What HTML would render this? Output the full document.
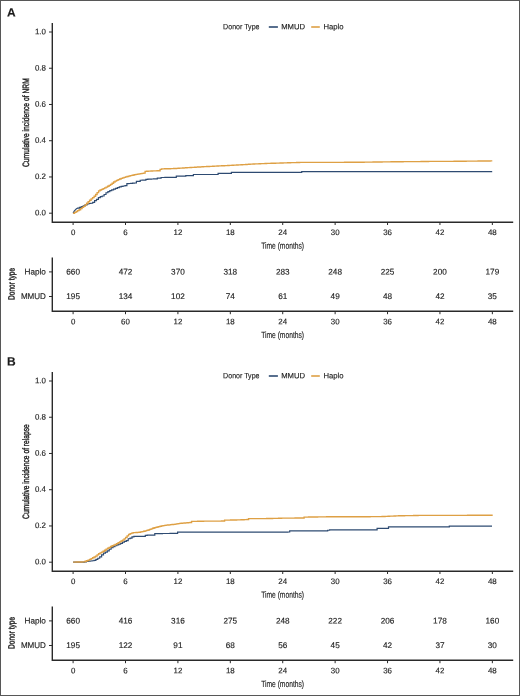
<!DOCTYPE html>
<html><head><meta charset="utf-8"><style>
html,body{margin:0;padding:0;background:#fff;}
body{width:520px;height:696px;overflow:hidden;}
svg{display:block;font-family:"Liberation Sans", sans-serif;}
text{stroke:#222;stroke-width:0.15px;}
.tx{opacity:0.999;}
text.c{stroke-width:0.4px;}
</style></head><body>
<svg width="520" height="696" viewBox="0 0 520 696">
<rect x="0" y="0" width="520" height="696" fill="#fff"/>
<rect x="0.5" y="0.5" width="519" height="695" fill="none" stroke="#575757" stroke-width="1"/>
<line x1="268.8" x2="277.9" y1="27.0" y2="27.0" stroke="#2e4b72" stroke-width="1.6"/>
<line x1="311.2" x2="319.8" y1="27.0" y2="27.0" stroke="#dea044" stroke-width="1.6"/>
<path d="M52.3,23.0V222.2H513.2" fill="none" stroke="#2a2a2a" stroke-width="1.4"/>
<line x1="49.0" x2="52.3" y1="32.00" y2="32.00" stroke="#2a2a2a" stroke-width="1"/>
<line x1="49.0" x2="52.3" y1="68.24" y2="68.24" stroke="#2a2a2a" stroke-width="1"/>
<line x1="49.0" x2="52.3" y1="104.48" y2="104.48" stroke="#2a2a2a" stroke-width="1"/>
<line x1="49.0" x2="52.3" y1="140.72" y2="140.72" stroke="#2a2a2a" stroke-width="1"/>
<line x1="49.0" x2="52.3" y1="176.96" y2="176.96" stroke="#2a2a2a" stroke-width="1"/>
<line x1="49.0" x2="52.3" y1="213.20" y2="213.20" stroke="#2a2a2a" stroke-width="1"/>
<line x1="73.10" x2="73.10" y1="222.0" y2="225.0" stroke="#2a2a2a" stroke-width="1"/>
<line x1="125.51" x2="125.51" y1="222.0" y2="225.0" stroke="#2a2a2a" stroke-width="1"/>
<line x1="177.91" x2="177.91" y1="222.0" y2="225.0" stroke="#2a2a2a" stroke-width="1"/>
<line x1="230.32" x2="230.32" y1="222.0" y2="225.0" stroke="#2a2a2a" stroke-width="1"/>
<line x1="282.72" x2="282.72" y1="222.0" y2="225.0" stroke="#2a2a2a" stroke-width="1"/>
<line x1="335.13" x2="335.13" y1="222.0" y2="225.0" stroke="#2a2a2a" stroke-width="1"/>
<line x1="387.54" x2="387.54" y1="222.0" y2="225.0" stroke="#2a2a2a" stroke-width="1"/>
<line x1="439.94" x2="439.94" y1="222.0" y2="225.0" stroke="#2a2a2a" stroke-width="1"/>
<line x1="492.35" x2="492.35" y1="222.0" y2="225.0" stroke="#2a2a2a" stroke-width="1"/>
<path d="M73.10,213.20L74.20,211.20L76.20,208.90L77.50,208.20H79.40V207.39H81.30V206.59H83.20V205.76H85.10V204.88H87.00V203.86H88.90V203.49H90.80V203.24H92.70V202.30H94.60V200.55H96.50V199.37H98.40V197.70H100.30V196.72H102.20V195.99H104.10V194.51H106.00V192.76H107.90V191.62H109.80V190.69H111.70V189.85H113.60V189.05H115.50V188.30H117.40V187.57H119.30V186.95H121.20V186.40H123.10V186.01H125.00V185.71H126.90V183.70H128.80V183.52H130.70V183.35H132.60V183.17H134.50V183.00H136.40V181.42H138.30V181.34H140.20V180.26H142.10V180.19H144.00V180.11H145.90V179.31H147.80V179.21H149.70V179.12H151.60V179.02H153.50V178.92H155.40V178.82H157.30V178.20H159.20H161.10V177.49H163.00H164.90V177.44H166.80H168.70V177.39H170.60H172.50V177.34H174.40H176.30V176.10H178.20H180.10H182.00H183.90H185.80V175.60H187.70H189.60H191.50H193.40V174.50H195.30H197.20H199.10H201.00H202.90H204.80H206.70H208.60H210.50H212.40H214.30H216.20H218.10V173.30H220.00H221.90H223.80H225.70H227.60H229.50H231.40V172.35H233.30H235.20H237.10H239.00H240.90H242.80H244.70H246.60H248.50H250.40H252.30H254.20H256.10H258.00H259.90H261.80H263.70H265.60H267.50H269.40H271.30H273.20H275.10H277.00H278.90H280.80H282.70H284.60H286.50H288.40H290.30H292.20H294.10H296.00H297.90H299.80H301.70V171.65H303.60H305.50H307.40H309.30H311.20H313.10H315.00H316.90H318.80H320.70H322.60H324.50H326.40H328.30H330.20H332.10H334.00H335.90H337.80H339.70H341.60H343.50H345.40H347.30H349.20H351.10H353.00H354.90H356.80H358.70H360.60H362.50H364.40H366.30H368.20H370.10H372.00H373.90H375.80H377.70H379.60H381.50H383.40H385.30H387.20H389.10H391.00H392.90H394.80H396.70H398.60H400.50H402.40H404.30H406.20H408.10H410.00H411.90H413.80H415.70H417.60H419.50H421.40H423.30H425.20H427.10H429.00H430.90H432.80H434.70H436.60H438.50H440.40H442.30H444.20H446.10H448.00H449.90H451.80H453.70H455.60H457.50H459.40H461.30H463.20H465.10H467.00H468.90H470.80H472.70H474.60H476.50H478.40H480.30H482.20H484.10H486.00H487.90H489.80H491.70H492.20" fill="none" stroke="#2e4b72" stroke-width="1.2"/>
<path d="M73.10,213.20H74.60V212.34H76.10V211.49H77.60V210.63H79.10V209.70H80.60V208.57H82.10V207.44H83.60V206.30H85.10V204.93H86.60V203.27H88.10V201.70H89.60V200.20H91.10V198.84H92.60V197.56H94.10V196.28H95.60V194.50H97.10V192.67H98.60V190.84H100.10V190.00H101.60V189.31H103.10V188.60H104.60V187.85H106.10V187.10H107.60V186.25H109.10V185.37H110.60V184.44H112.10V183.21H113.60V181.99H115.10V181.06H116.60V180.33H118.10V179.60H119.60V179.01H121.10V178.44H122.60V177.89H124.10V177.33H125.60V176.84H127.10V176.45H128.60V176.06H130.10V175.68H131.60V175.32H133.10V174.96H134.60V174.60H136.10V174.31H137.60V174.06H139.10V173.80H140.60V173.56H142.10V173.33H143.60V173.10H145.10V171.32H146.60V171.24H148.10V171.15H149.60V171.07H151.10V171.01H152.60V170.94H154.10V170.88H155.60V170.82H157.10V170.76H158.60V170.70H160.10V169.35H161.60V168.87H163.10H164.60V168.79H166.10H167.60V168.71H169.10H170.60V168.62H172.10H173.60V168.54H175.10H176.60V168.39H178.10V168.29H179.60V168.19H181.10V168.09H182.60V167.99H184.10V167.89H185.60V167.79H187.10V167.69H188.60V167.59H190.10V167.49H191.60V167.40H193.10V167.31H194.60V167.22H196.10V167.13H197.60V167.04H199.10V166.95H200.60V166.86H202.10V166.77H203.60V166.68H205.10V166.60H206.60V166.52H208.10V166.45H209.60V166.37H211.10V166.30H212.60V166.23H214.10V166.15H215.60V166.08H217.10V166.01H218.60V165.93H220.10V165.86H221.60V165.79H223.10V165.71H224.60V165.64H226.10V165.56H227.60V165.48H229.10V165.40H230.60V165.32H232.10V165.23H233.60V165.15H235.10V165.07H236.60V164.99H238.10V164.90H239.60V164.82H241.10V164.73H242.60V164.64H244.10V164.55H245.60V164.46H247.10V164.37H248.60V164.28H250.10V164.19H251.60V164.10H253.10V164.01H254.60V163.92H256.10V163.86H257.60V163.80H259.10V163.74H260.60V163.68H262.10V163.62H263.60V163.56H265.10V163.50H266.60V163.44H268.10V163.38H269.60V163.32H271.10V163.26H272.60V163.21H274.10H275.60V163.11H277.10V163.06H278.60H280.10V162.96H281.60H283.10V162.86H284.60V162.81H286.10H287.60V162.73H289.10H290.60V162.65H292.10H293.60V162.57H295.10H296.60V162.49H298.10H299.60V162.41H301.10H302.60H304.10H305.60H307.10H308.60H310.10H311.60H313.10V162.36H314.60H316.10H317.60H319.10H320.60H322.10H323.60H325.10H326.60H328.10H329.60V162.30H331.10H332.60H334.10H335.60H337.10H338.60H340.10H341.60H343.10H344.60V162.25H346.10H347.60H349.10H350.60H352.10H353.60H355.10H356.60H358.10H359.60V162.20H361.10H362.60H364.10V162.15H365.60H367.10H368.60V162.09H370.10H371.60H373.10V162.03H374.60H376.10H377.60V161.97H379.10H380.60H382.10V161.91H383.60H385.10H386.60V161.85H388.10H389.60H391.10V161.79H392.60H394.10H395.60H397.10V161.73H398.60H400.10H401.60H403.10V161.67H404.60H406.10H407.60H409.10V161.61H410.60H412.10H413.60H415.10V161.55H416.60H418.10H419.60H421.10V161.49H422.60H424.10H425.60H427.10H428.60V161.44H430.10H431.60H433.10H434.60H436.10H437.60V161.38H439.10H440.60H442.10H443.60H445.10H446.60V161.32H448.10H449.60H451.10H452.60H454.10V161.26H455.60H457.10H458.60H460.10V161.20H461.60H463.10H464.60H466.10V161.14H467.60H469.10H470.60H472.10V161.08H473.60H475.10H476.60H478.10V161.03H479.60H481.10H482.60H484.10V160.97H485.60H487.10H488.60H490.10V160.92H491.60H492.30" fill="none" stroke="#dea044" stroke-width="1.35"/>
<path d="M52.3,257.4V311.3H513.2" fill="none" stroke="#2a2a2a" stroke-width="1.4"/>
<line x1="49.0" x2="52.3" y1="271.90" y2="271.90" stroke="#2a2a2a" stroke-width="1"/>
<line x1="49.0" x2="52.3" y1="296.50" y2="296.50" stroke="#2a2a2a" stroke-width="1"/>
<line x1="73.10" x2="73.10" y1="311.2" y2="314.2" stroke="#2a2a2a" stroke-width="1"/>
<line x1="125.51" x2="125.51" y1="311.2" y2="314.2" stroke="#2a2a2a" stroke-width="1"/>
<line x1="177.91" x2="177.91" y1="311.2" y2="314.2" stroke="#2a2a2a" stroke-width="1"/>
<line x1="230.32" x2="230.32" y1="311.2" y2="314.2" stroke="#2a2a2a" stroke-width="1"/>
<line x1="282.72" x2="282.72" y1="311.2" y2="314.2" stroke="#2a2a2a" stroke-width="1"/>
<line x1="335.13" x2="335.13" y1="311.2" y2="314.2" stroke="#2a2a2a" stroke-width="1"/>
<line x1="387.54" x2="387.54" y1="311.2" y2="314.2" stroke="#2a2a2a" stroke-width="1"/>
<line x1="439.94" x2="439.94" y1="311.2" y2="314.2" stroke="#2a2a2a" stroke-width="1"/>
<line x1="492.35" x2="492.35" y1="311.2" y2="314.2" stroke="#2a2a2a" stroke-width="1"/>
<line x1="268.8" x2="277.9" y1="376.0" y2="376.0" stroke="#2e4b72" stroke-width="1.6"/>
<line x1="311.2" x2="319.8" y1="376.0" y2="376.0" stroke="#dea044" stroke-width="1.6"/>
<path d="M52.3,372.0V571.2H513.2" fill="none" stroke="#2a2a2a" stroke-width="1.4"/>
<line x1="49.0" x2="52.3" y1="381.00" y2="381.00" stroke="#2a2a2a" stroke-width="1"/>
<line x1="49.0" x2="52.3" y1="417.24" y2="417.24" stroke="#2a2a2a" stroke-width="1"/>
<line x1="49.0" x2="52.3" y1="453.48" y2="453.48" stroke="#2a2a2a" stroke-width="1"/>
<line x1="49.0" x2="52.3" y1="489.72" y2="489.72" stroke="#2a2a2a" stroke-width="1"/>
<line x1="49.0" x2="52.3" y1="525.96" y2="525.96" stroke="#2a2a2a" stroke-width="1"/>
<line x1="49.0" x2="52.3" y1="562.20" y2="562.20" stroke="#2a2a2a" stroke-width="1"/>
<line x1="73.10" x2="73.10" y1="571.0" y2="574.0" stroke="#2a2a2a" stroke-width="1"/>
<line x1="125.51" x2="125.51" y1="571.0" y2="574.0" stroke="#2a2a2a" stroke-width="1"/>
<line x1="177.91" x2="177.91" y1="571.0" y2="574.0" stroke="#2a2a2a" stroke-width="1"/>
<line x1="230.32" x2="230.32" y1="571.0" y2="574.0" stroke="#2a2a2a" stroke-width="1"/>
<line x1="282.72" x2="282.72" y1="571.0" y2="574.0" stroke="#2a2a2a" stroke-width="1"/>
<line x1="335.13" x2="335.13" y1="571.0" y2="574.0" stroke="#2a2a2a" stroke-width="1"/>
<line x1="387.54" x2="387.54" y1="571.0" y2="574.0" stroke="#2a2a2a" stroke-width="1"/>
<line x1="439.94" x2="439.94" y1="571.0" y2="574.0" stroke="#2a2a2a" stroke-width="1"/>
<line x1="492.35" x2="492.35" y1="571.0" y2="574.0" stroke="#2a2a2a" stroke-width="1"/>
<path d="M73.10,562.10H75.00H76.90H78.80V562.05H80.70H82.60H84.50V561.79H86.40V561.41H88.30V561.13H90.20V560.98H92.10V560.74H94.00V560.40H95.90V559.45H97.80V558.23H99.70V556.90H101.60V554.92H103.50V553.13H105.40V552.10H107.30V550.87H109.20V549.23H111.10V547.62H113.00V546.62H114.90V545.76H116.80V544.95H118.70V544.16H120.60V543.38H122.50V542.12H124.40V541.37H126.30V540.57H128.20V538.73H130.10V538.05H132.00V536.92H133.90V536.40H135.80H137.70H139.60H141.50H143.40H145.30V535.31H147.20V535.16H149.10V535.10H151.00H152.90H154.80V533.59H156.70H158.60H160.50H162.40V533.52H164.30H166.20H168.10H170.00V533.46H171.90H173.80H175.70H177.60V532.10H179.50H181.40H183.30H185.20H187.10H189.00H190.90H192.80H194.70H196.60H198.50H200.40H202.30H204.20H206.10H208.00H209.90H211.80H213.70H215.60H217.50H219.40H221.30H223.20H225.10H227.00H228.90H230.80H232.70H234.60H236.50H238.40H240.30H242.20H244.10H246.00H247.90H249.80H251.70H253.60H255.50H257.40H259.30H261.20H263.10H265.00H266.90H268.80H270.70H272.60H274.50H276.40H278.30H280.20H282.10H284.00H285.90H287.80V531.99H289.70V530.90H291.60H293.50H295.40H297.30H299.20H301.10H303.00H304.90H306.80H308.70H310.60H312.50H314.40H316.30H318.20H320.10H322.00H323.90H325.80H327.70V530.23H329.60V529.90H331.50H333.40H335.30H337.20H339.10H341.00H342.90H344.80H346.70H348.60H350.50H352.40H354.30H356.20H358.10H360.00H361.90H363.80H365.70H367.60H369.50H371.40H373.30H375.20H377.10V528.40H379.00H380.90H382.80H384.70H386.60H388.50V526.90H390.40H392.30H394.20H396.10H398.00H399.90H401.80H403.70H405.60H407.50H409.40H411.30H413.20H415.10H417.00H418.90H420.80H422.70H424.60H426.50H428.40H430.30H432.20H434.10H436.00H437.90H439.80H441.70H443.60H445.50H447.40H449.30V526.15H451.20H453.10H455.00H456.90H458.80H460.70H462.60H464.50H466.40H468.30H470.20H472.10H474.00H475.90H477.80H479.70H481.60H483.50H485.40H487.30H489.20H491.10H492.00" fill="none" stroke="#2e4b72" stroke-width="1.2"/>
<path d="M73.10,562.10H74.60H76.10V562.04H77.60H79.10V561.98H80.60H82.10V561.93H83.60V561.86H85.10V561.28H86.60V560.71H88.10V560.05H89.60V559.30H91.10V558.55H92.60V557.78H94.10V557.01H95.60V556.11H97.10V554.92H98.60V553.74H100.10V552.88H101.60V552.12H103.10V551.29H104.60V550.22H106.10V549.16H107.60V548.21H109.10V547.33H110.60V546.46H112.10V545.79H113.60V545.13H115.10V544.47H116.60V543.66H118.10V542.77H119.60V541.87H121.10V540.97H122.60V540.08H124.10V538.90H125.60V537.40H127.10V535.90H128.60V534.40H130.10V533.69H131.60V533.09H133.10V532.67H134.60V532.57H136.10V532.47H137.60V532.38H139.10V532.24H140.60V531.92H142.10V531.61H143.60V531.22H145.10V530.81H146.60V530.39H148.10V529.96H149.60V529.39H151.10V528.82H152.60V528.26H154.10V527.72H155.60V527.33H157.10V526.95H158.60V526.56H160.10V526.21H161.60V525.92H163.10V525.64H164.60V525.35H166.10V525.13H167.60V524.98H169.10V524.83H170.60V524.69H172.10V524.54H173.60V524.38H175.10V524.13H176.60V523.88H178.10V523.62H179.60V523.37H181.10V523.21H182.60V523.09H184.10V522.97H185.60V522.85H187.10V522.74H188.60V522.62H190.10V522.50H191.60V521.30H193.10H194.60H196.10H197.60V521.24H199.10H200.60H202.10H203.60V521.19H205.10H206.60H208.10H209.60V521.13H211.10H212.60H214.10H215.60V521.08H217.10H218.60H220.10H221.60V521.02H223.10H224.60V520.18H226.10H227.60V520.11H229.10H230.60V520.03H232.10H233.60V519.96H235.10H236.60V519.88H238.10H239.60V519.81H241.10V519.76H242.60V519.70H244.10V519.64H245.60V519.58H247.10V519.52H248.60V518.69H250.10H251.60H253.10H254.60V518.63H256.10H257.60H259.10H260.60V518.57H262.10H263.60H265.10H266.60V518.51H268.10H269.60V518.46H271.10H272.60V518.38H274.10H275.60V518.30H277.10H278.60V518.23H280.10H281.60V518.18H283.10H284.60H286.10V518.12H287.60H289.10H290.60V518.06H292.10H293.60H295.10V518.01H296.60H298.10H299.60V517.95H301.10H302.60H304.10V517.10H305.60H307.10H308.60V517.02H310.10H311.60H313.10V516.95H314.60H316.10H317.60V516.87H319.10H320.60H322.10V516.80H323.60H325.10H326.60V516.72H328.10H329.60H331.10H332.60H334.10H335.60H337.10H338.60H340.10H341.60H343.10H344.60H346.10H347.60H349.10H350.60H352.10H353.60H355.10H356.60H358.10H359.60H361.10H362.60H364.10H365.60H367.10H368.60H370.10V516.67H371.60H373.10H374.60H376.10H377.60H379.10V516.61H380.60H382.10V516.54H383.60V516.47H385.10V516.40H386.60V516.33H388.10V516.26H389.60V516.19H391.10V516.12H392.60V516.05H394.10V515.98H395.60V515.91H397.10V515.84H398.60V515.77H400.10V515.70H401.60H403.10H404.60V515.63H406.10H407.60H409.10V515.56H410.60H412.10H413.60V515.50H415.10H416.60H418.10V515.43H419.60H421.10H422.60H424.10H425.60H427.10H428.60V515.38H430.10H431.60H433.10H434.60H436.10H437.60H439.10H440.60H442.10H443.60H445.10H446.60H448.10V515.32H449.60H451.10H452.60H454.10H455.60H457.10H458.60H460.10H461.60H463.10H464.60H466.10H467.60V515.27H469.10H470.60H472.10H473.60H475.10H476.60H478.10H479.60H481.10H482.60H484.10H485.60H487.10V515.22H488.60H490.10H491.60H492.70" fill="none" stroke="#dea044" stroke-width="1.35"/>
<path d="M52.3,606.4V660.3H513.2" fill="none" stroke="#2a2a2a" stroke-width="1.4"/>
<line x1="49.0" x2="52.3" y1="620.90" y2="620.90" stroke="#2a2a2a" stroke-width="1"/>
<line x1="49.0" x2="52.3" y1="645.50" y2="645.50" stroke="#2a2a2a" stroke-width="1"/>
<line x1="73.10" x2="73.10" y1="660.2" y2="663.2" stroke="#2a2a2a" stroke-width="1"/>
<line x1="125.51" x2="125.51" y1="660.2" y2="663.2" stroke="#2a2a2a" stroke-width="1"/>
<line x1="177.91" x2="177.91" y1="660.2" y2="663.2" stroke="#2a2a2a" stroke-width="1"/>
<line x1="230.32" x2="230.32" y1="660.2" y2="663.2" stroke="#2a2a2a" stroke-width="1"/>
<line x1="282.72" x2="282.72" y1="660.2" y2="663.2" stroke="#2a2a2a" stroke-width="1"/>
<line x1="335.13" x2="335.13" y1="660.2" y2="663.2" stroke="#2a2a2a" stroke-width="1"/>
<line x1="387.54" x2="387.54" y1="660.2" y2="663.2" stroke="#2a2a2a" stroke-width="1"/>
<line x1="439.94" x2="439.94" y1="660.2" y2="663.2" stroke="#2a2a2a" stroke-width="1"/>
<line x1="492.35" x2="492.35" y1="660.2" y2="663.2" stroke="#2a2a2a" stroke-width="1"/>
<g class="tx">
<text transform="translate(7.00,16.60) matrix(1,0.001,0,1,0,0)" font-size="12" font-weight="bold" fill="#1a1a1a">A</text>
<text transform="translate(223.10,29.30) matrix(1,0.001,0,1,0,0)" font-size="7.7" fill="#222" textLength="36.4" lengthAdjust="spacingAndGlyphs">Donor Type</text>
<text transform="translate(281.20,29.30) matrix(1,0.001,0,1,0,0)" font-size="7.7" fill="#222">MMUD</text>
<text transform="translate(323.50,29.30) matrix(1,0.001,0,1,0,0)" font-size="7.7" fill="#222">Haplo</text>
<text transform="translate(45.90,34.15) matrix(1,0.001,0,1,0,0)" font-size="7.9" text-anchor="end" fill="#222">1.0</text>
<text transform="translate(45.90,70.39) matrix(1,0.001,0,1,0,0)" font-size="7.9" text-anchor="end" fill="#222">0.8</text>
<text transform="translate(45.90,106.63) matrix(1,0.001,0,1,0,0)" font-size="7.9" text-anchor="end" fill="#222">0.6</text>
<text transform="translate(45.90,142.87) matrix(1,0.001,0,1,0,0)" font-size="7.9" text-anchor="end" fill="#222">0.4</text>
<text transform="translate(45.90,179.11) matrix(1,0.001,0,1,0,0)" font-size="7.9" text-anchor="end" fill="#222">0.2</text>
<text transform="translate(45.90,215.35) matrix(1,0.001,0,1,0,0)" font-size="7.9" text-anchor="end" fill="#222">0.0</text>
<text transform="translate(73.10,235.10) matrix(1,0.001,0,1,0,0)" font-size="7.9" text-anchor="middle" fill="#222">0</text>
<text transform="translate(125.51,235.10) matrix(1,0.001,0,1,0,0)" font-size="7.9" text-anchor="middle" fill="#222">6</text>
<text transform="translate(177.91,235.10) matrix(1,0.001,0,1,0,0)" font-size="7.9" text-anchor="middle" fill="#222">12</text>
<text transform="translate(230.32,235.10) matrix(1,0.001,0,1,0,0)" font-size="7.9" text-anchor="middle" fill="#222">18</text>
<text transform="translate(282.72,235.10) matrix(1,0.001,0,1,0,0)" font-size="7.9" text-anchor="middle" fill="#222">24</text>
<text transform="translate(335.13,235.10) matrix(1,0.001,0,1,0,0)" font-size="7.9" text-anchor="middle" fill="#222">30</text>
<text transform="translate(387.54,235.10) matrix(1,0.001,0,1,0,0)" font-size="7.9" text-anchor="middle" fill="#222">36</text>
<text transform="translate(439.94,235.10) matrix(1,0.001,0,1,0,0)" font-size="7.9" text-anchor="middle" fill="#222">42</text>
<text transform="translate(492.35,235.10) matrix(1,0.001,0,1,0,0)" font-size="7.9" text-anchor="middle" fill="#222">48</text>
<text transform="translate(282.60,248.70) matrix(1,0.001,0,1,0,0)" font-size="9.1" text-anchor="middle" fill="#222" textLength="42.9" lengthAdjust="spacingAndGlyphs">Time (months)</text>
<text class="c" transform="translate(29.00,122.60) rotate(-90) matrix(1,0.001,0,1,0,0)" font-size="9.2" text-anchor="middle" fill="#222" textLength="88.8" lengthAdjust="spacingAndGlyphs">Cumulative incidence of NRM</text>
<text transform="translate(45.90,274.40) matrix(1,0.001,0,1,0,0)" font-size="8.2" text-anchor="end" fill="#222">Haplo</text>
<text transform="translate(73.10,274.40) matrix(1,0.001,0,1,0,0)" font-size="8.2" text-anchor="middle" fill="#222">660</text>
<text transform="translate(125.51,274.40) matrix(1,0.001,0,1,0,0)" font-size="8.2" text-anchor="middle" fill="#222">472</text>
<text transform="translate(177.91,274.40) matrix(1,0.001,0,1,0,0)" font-size="8.2" text-anchor="middle" fill="#222">370</text>
<text transform="translate(230.32,274.40) matrix(1,0.001,0,1,0,0)" font-size="8.2" text-anchor="middle" fill="#222">318</text>
<text transform="translate(282.72,274.40) matrix(1,0.001,0,1,0,0)" font-size="8.2" text-anchor="middle" fill="#222">283</text>
<text transform="translate(335.13,274.40) matrix(1,0.001,0,1,0,0)" font-size="8.2" text-anchor="middle" fill="#222">248</text>
<text transform="translate(387.54,274.40) matrix(1,0.001,0,1,0,0)" font-size="8.2" text-anchor="middle" fill="#222">225</text>
<text transform="translate(439.94,274.40) matrix(1,0.001,0,1,0,0)" font-size="8.2" text-anchor="middle" fill="#222">200</text>
<text transform="translate(492.35,274.40) matrix(1,0.001,0,1,0,0)" font-size="8.2" text-anchor="middle" fill="#222">179</text>
<text transform="translate(45.90,299.00) matrix(1,0.001,0,1,0,0)" font-size="8.2" text-anchor="end" fill="#222" textLength="25" lengthAdjust="spacingAndGlyphs">MMUD</text>
<text transform="translate(73.10,299.00) matrix(1,0.001,0,1,0,0)" font-size="8.2" text-anchor="middle" fill="#222">195</text>
<text transform="translate(125.51,299.00) matrix(1,0.001,0,1,0,0)" font-size="8.2" text-anchor="middle" fill="#222">134</text>
<text transform="translate(177.91,299.00) matrix(1,0.001,0,1,0,0)" font-size="8.2" text-anchor="middle" fill="#222">102</text>
<text transform="translate(230.32,299.00) matrix(1,0.001,0,1,0,0)" font-size="8.2" text-anchor="middle" fill="#222">74</text>
<text transform="translate(282.72,299.00) matrix(1,0.001,0,1,0,0)" font-size="8.2" text-anchor="middle" fill="#222">61</text>
<text transform="translate(335.13,299.00) matrix(1,0.001,0,1,0,0)" font-size="8.2" text-anchor="middle" fill="#222">49</text>
<text transform="translate(387.54,299.00) matrix(1,0.001,0,1,0,0)" font-size="8.2" text-anchor="middle" fill="#222">48</text>
<text transform="translate(439.94,299.00) matrix(1,0.001,0,1,0,0)" font-size="8.2" text-anchor="middle" fill="#222">42</text>
<text transform="translate(492.35,299.00) matrix(1,0.001,0,1,0,0)" font-size="8.2" text-anchor="middle" fill="#222">35</text>
<text transform="translate(73.10,324.20) matrix(1,0.001,0,1,0,0)" font-size="7.9" text-anchor="middle" fill="#222">0</text>
<text transform="translate(125.51,324.20) matrix(1,0.001,0,1,0,0)" font-size="7.9" text-anchor="middle" fill="#222">60</text>
<text transform="translate(177.91,324.20) matrix(1,0.001,0,1,0,0)" font-size="7.9" text-anchor="middle" fill="#222">12</text>
<text transform="translate(230.32,324.20) matrix(1,0.001,0,1,0,0)" font-size="7.9" text-anchor="middle" fill="#222">18</text>
<text transform="translate(282.72,324.20) matrix(1,0.001,0,1,0,0)" font-size="7.9" text-anchor="middle" fill="#222">24</text>
<text transform="translate(335.13,324.20) matrix(1,0.001,0,1,0,0)" font-size="7.9" text-anchor="middle" fill="#222">30</text>
<text transform="translate(387.54,324.20) matrix(1,0.001,0,1,0,0)" font-size="7.9" text-anchor="middle" fill="#222">36</text>
<text transform="translate(439.94,324.20) matrix(1,0.001,0,1,0,0)" font-size="7.9" text-anchor="middle" fill="#222">42</text>
<text transform="translate(492.35,324.20) matrix(1,0.001,0,1,0,0)" font-size="7.9" text-anchor="middle" fill="#222">48</text>
<text transform="translate(282.60,337.90) matrix(1,0.001,0,1,0,0)" font-size="9.1" text-anchor="middle" fill="#222" textLength="42.9" lengthAdjust="spacingAndGlyphs">Time (months)</text>
<text class="c" transform="translate(14.60,283.90) rotate(-90) matrix(1,0.001,0,1,0,0)" font-size="9" text-anchor="middle" fill="#222" textLength="32" lengthAdjust="spacingAndGlyphs">Donor type</text>
<text transform="translate(7.00,365.60) matrix(1,0.001,0,1,0,0)" font-size="12" font-weight="bold" fill="#1a1a1a">B</text>
<text transform="translate(223.10,378.30) matrix(1,0.001,0,1,0,0)" font-size="7.7" fill="#222" textLength="36.4" lengthAdjust="spacingAndGlyphs">Donor Type</text>
<text transform="translate(281.20,378.30) matrix(1,0.001,0,1,0,0)" font-size="7.7" fill="#222">MMUD</text>
<text transform="translate(323.50,378.30) matrix(1,0.001,0,1,0,0)" font-size="7.7" fill="#222">Haplo</text>
<text transform="translate(45.90,383.15) matrix(1,0.001,0,1,0,0)" font-size="7.9" text-anchor="end" fill="#222">1.0</text>
<text transform="translate(45.90,419.39) matrix(1,0.001,0,1,0,0)" font-size="7.9" text-anchor="end" fill="#222">0.8</text>
<text transform="translate(45.90,455.63) matrix(1,0.001,0,1,0,0)" font-size="7.9" text-anchor="end" fill="#222">0.6</text>
<text transform="translate(45.90,491.87) matrix(1,0.001,0,1,0,0)" font-size="7.9" text-anchor="end" fill="#222">0.4</text>
<text transform="translate(45.90,528.11) matrix(1,0.001,0,1,0,0)" font-size="7.9" text-anchor="end" fill="#222">0.2</text>
<text transform="translate(45.90,564.35) matrix(1,0.001,0,1,0,0)" font-size="7.9" text-anchor="end" fill="#222">0.0</text>
<text transform="translate(73.10,584.10) matrix(1,0.001,0,1,0,0)" font-size="7.9" text-anchor="middle" fill="#222">0</text>
<text transform="translate(125.51,584.10) matrix(1,0.001,0,1,0,0)" font-size="7.9" text-anchor="middle" fill="#222">6</text>
<text transform="translate(177.91,584.10) matrix(1,0.001,0,1,0,0)" font-size="7.9" text-anchor="middle" fill="#222">12</text>
<text transform="translate(230.32,584.10) matrix(1,0.001,0,1,0,0)" font-size="7.9" text-anchor="middle" fill="#222">18</text>
<text transform="translate(282.72,584.10) matrix(1,0.001,0,1,0,0)" font-size="7.9" text-anchor="middle" fill="#222">24</text>
<text transform="translate(335.13,584.10) matrix(1,0.001,0,1,0,0)" font-size="7.9" text-anchor="middle" fill="#222">30</text>
<text transform="translate(387.54,584.10) matrix(1,0.001,0,1,0,0)" font-size="7.9" text-anchor="middle" fill="#222">36</text>
<text transform="translate(439.94,584.10) matrix(1,0.001,0,1,0,0)" font-size="7.9" text-anchor="middle" fill="#222">42</text>
<text transform="translate(492.35,584.10) matrix(1,0.001,0,1,0,0)" font-size="7.9" text-anchor="middle" fill="#222">48</text>
<text transform="translate(282.60,597.70) matrix(1,0.001,0,1,0,0)" font-size="9.1" text-anchor="middle" fill="#222" textLength="42.9" lengthAdjust="spacingAndGlyphs">Time (months)</text>
<text class="c" transform="translate(29.00,471.60) rotate(-90) matrix(1,0.001,0,1,0,0)" font-size="9.2" text-anchor="middle" fill="#222" textLength="94.7" lengthAdjust="spacingAndGlyphs">Cumulative incidence of relapse</text>
<text transform="translate(45.90,623.40) matrix(1,0.001,0,1,0,0)" font-size="8.2" text-anchor="end" fill="#222">Haplo</text>
<text transform="translate(73.10,623.40) matrix(1,0.001,0,1,0,0)" font-size="8.2" text-anchor="middle" fill="#222">660</text>
<text transform="translate(125.51,623.40) matrix(1,0.001,0,1,0,0)" font-size="8.2" text-anchor="middle" fill="#222">416</text>
<text transform="translate(177.91,623.40) matrix(1,0.001,0,1,0,0)" font-size="8.2" text-anchor="middle" fill="#222">316</text>
<text transform="translate(230.32,623.40) matrix(1,0.001,0,1,0,0)" font-size="8.2" text-anchor="middle" fill="#222">275</text>
<text transform="translate(282.72,623.40) matrix(1,0.001,0,1,0,0)" font-size="8.2" text-anchor="middle" fill="#222">248</text>
<text transform="translate(335.13,623.40) matrix(1,0.001,0,1,0,0)" font-size="8.2" text-anchor="middle" fill="#222">222</text>
<text transform="translate(387.54,623.40) matrix(1,0.001,0,1,0,0)" font-size="8.2" text-anchor="middle" fill="#222">206</text>
<text transform="translate(439.94,623.40) matrix(1,0.001,0,1,0,0)" font-size="8.2" text-anchor="middle" fill="#222">178</text>
<text transform="translate(492.35,623.40) matrix(1,0.001,0,1,0,0)" font-size="8.2" text-anchor="middle" fill="#222">160</text>
<text transform="translate(45.90,648.00) matrix(1,0.001,0,1,0,0)" font-size="8.2" text-anchor="end" fill="#222" textLength="25" lengthAdjust="spacingAndGlyphs">MMUD</text>
<text transform="translate(73.10,648.00) matrix(1,0.001,0,1,0,0)" font-size="8.2" text-anchor="middle" fill="#222">195</text>
<text transform="translate(125.51,648.00) matrix(1,0.001,0,1,0,0)" font-size="8.2" text-anchor="middle" fill="#222">122</text>
<text transform="translate(177.91,648.00) matrix(1,0.001,0,1,0,0)" font-size="8.2" text-anchor="middle" fill="#222">91</text>
<text transform="translate(230.32,648.00) matrix(1,0.001,0,1,0,0)" font-size="8.2" text-anchor="middle" fill="#222">68</text>
<text transform="translate(282.72,648.00) matrix(1,0.001,0,1,0,0)" font-size="8.2" text-anchor="middle" fill="#222">56</text>
<text transform="translate(335.13,648.00) matrix(1,0.001,0,1,0,0)" font-size="8.2" text-anchor="middle" fill="#222">45</text>
<text transform="translate(387.54,648.00) matrix(1,0.001,0,1,0,0)" font-size="8.2" text-anchor="middle" fill="#222">42</text>
<text transform="translate(439.94,648.00) matrix(1,0.001,0,1,0,0)" font-size="8.2" text-anchor="middle" fill="#222">37</text>
<text transform="translate(492.35,648.00) matrix(1,0.001,0,1,0,0)" font-size="8.2" text-anchor="middle" fill="#222">30</text>
<text transform="translate(73.10,673.20) matrix(1,0.001,0,1,0,0)" font-size="7.9" text-anchor="middle" fill="#222">0</text>
<text transform="translate(125.51,673.20) matrix(1,0.001,0,1,0,0)" font-size="7.9" text-anchor="middle" fill="#222">6</text>
<text transform="translate(177.91,673.20) matrix(1,0.001,0,1,0,0)" font-size="7.9" text-anchor="middle" fill="#222">12</text>
<text transform="translate(230.32,673.20) matrix(1,0.001,0,1,0,0)" font-size="7.9" text-anchor="middle" fill="#222">18</text>
<text transform="translate(282.72,673.20) matrix(1,0.001,0,1,0,0)" font-size="7.9" text-anchor="middle" fill="#222">24</text>
<text transform="translate(335.13,673.20) matrix(1,0.001,0,1,0,0)" font-size="7.9" text-anchor="middle" fill="#222">30</text>
<text transform="translate(387.54,673.20) matrix(1,0.001,0,1,0,0)" font-size="7.9" text-anchor="middle" fill="#222">36</text>
<text transform="translate(439.94,673.20) matrix(1,0.001,0,1,0,0)" font-size="7.9" text-anchor="middle" fill="#222">42</text>
<text transform="translate(492.35,673.20) matrix(1,0.001,0,1,0,0)" font-size="7.9" text-anchor="middle" fill="#222">48</text>
<text transform="translate(282.60,686.90) matrix(1,0.001,0,1,0,0)" font-size="9.1" text-anchor="middle" fill="#222" textLength="42.9" lengthAdjust="spacingAndGlyphs">Time (months)</text>
<text class="c" transform="translate(14.60,632.90) rotate(-90) matrix(1,0.001,0,1,0,0)" font-size="9" text-anchor="middle" fill="#222" textLength="32" lengthAdjust="spacingAndGlyphs">Donor type</text>
</g>
</svg>
</body></html>
